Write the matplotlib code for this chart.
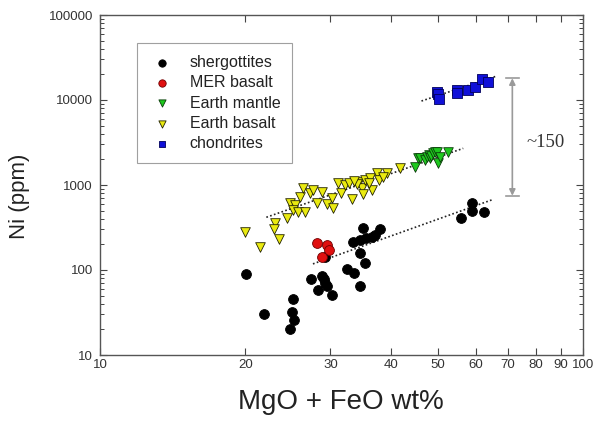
import numpy as np
import matplotlib
matplotlib.use('Agg')
from matplotlib import pyplot as plt
from matplotlib.ticker import FixedLocator, FuncFormatter, LogLocator, NullLocator

plt.rcParams['font.family'] = ['Liberation Sans', 'DejaVu Sans']

# data (MgO+FeO wt%, Ni ppm)
sherg_x = [20.1, 21.9, 25.1, 25.0, 25.2, 24.7, 27.3, 28.8, 29.1, 29.2, 29.5, 28.3, 30.2,
           32.5, 33.5, 34.5, 34.6, 35.4, 35.0, 33.4, 34.5, 35.6, 36.5, 37.1, 38.0, 29.2,
           55.9, 58.8, 58.8, 62.5]
sherg_y = [90, 30, 46, 32, 26, 20, 78, 86, 79, 70, 65, 58, 51,
           102, 92, 65, 160, 122, 310, 215, 225, 236, 245, 258, 300, 143,
           406, 610, 500, 480]

mer_x = [28.2, 29.5, 29.8, 28.8]
mer_y = [206, 197, 172, 143]

mantle_x = [44.9, 45.6, 46.0, 47.0, 47.5, 48.0, 48.2, 48.5, 49.0, 49.4, 49.8, 50.2, 50.6, 52.6]
mantle_y = [1640, 2060, 2060, 1950, 2120, 2250, 2060, 2200, 2360, 2460, 2460, 1800, 2150, 2460]

ebas_x = [20.0, 21.4, 23.0, 22.9, 23.5, 24.4, 24.7, 25.3, 25.1, 25.7, 26.6, 25.9, 26.3,
          27.2, 27.6, 28.2, 28.8, 29.5, 30.2, 30.4, 31.1, 31.5, 32.2, 32.7, 33.2, 34.3,
          34.8, 35.1, 35.4, 36.2, 36.5, 37.4, 37.9, 39.2, 41.8, 34.0, 33.6, 36.0, 38.5]
ebas_y = [281, 188, 356, 301, 230, 406, 619, 582, 508, 485, 485, 728, 915,
          799, 874, 609, 834, 598, 698, 532, 1065, 799, 1000, 1065, 679, 1094,
          915, 784, 1145, 1199, 874, 1374, 1145, 1374, 1572, 1020, 1100, 1050, 1250]

chon_x = [49.9, 50.0, 50.4, 54.8, 54.9, 57.9, 59.8, 61.7, 63.7]
chon_y = [12500, 11800, 10400, 13100, 12200, 13200, 14300, 17900, 16300]

# dotted trend lines (end points)
earth_fit_x = [22.1, 56.5]
earth_fit_y = [417, 2700]
sherg_fit_x = [27.6, 64.7]
sherg_fit_y = [118, 667]
chon_fit_x = [46.3, 66.3]
chon_fit_y = [9730, 19160]

# ~150 bracket
gap_x = 71.4
gap_top = 18000
gap_bot = 748

xticks = [10, 20, 30, 40, 50, 60, 70, 80, 90, 100]
yticks = [10, 100, 1000, 10000, 100000]

fig = plt.figure(figsize=(5.94, 4.21), dpi=100)
ax = fig.add_axes([100 / 594, 1 - 355 / 421, 483 / 594, 340 / 421])
ax.set_xscale('log')
ax.set_yscale('log')
ax.set_xlim(10, 100)
ax.set_ylim(10, 100000)

dot = (0, (1, 1.4))
for fx, fy in [(earth_fit_x, earth_fit_y), (sherg_fit_x, sherg_fit_y), (chon_fit_x, chon_fit_y)]:
    ax.plot(fx, fy, color='#222222', lw=1.2, ls=dot, zorder=2)

ax.scatter(sherg_x, sherg_y, s=50, marker='o', color='black', edgecolor='black',
           lw=0.6, zorder=3, label='shergottites')
ax.scatter(mer_x, mer_y, s=50, marker='o', color='#e01010', edgecolor='#700000',
           lw=0.6, zorder=4, label='MER basalt')
ax.scatter(mantle_x, mantle_y, s=48, marker='v', color='#1ec81e', edgecolor='#0a3a0a',
           lw=0.6, zorder=3, label='Earth mantle')
ax.scatter(ebas_x, ebas_y, s=48, marker='v', color='#eaea10', edgecolor='#222200',
           lw=0.6, zorder=3, label='Earth basalt')
ax.scatter(chon_x, chon_y, s=42, marker='s', color='#1010d8', edgecolor='#00005a',
           lw=0.6, zorder=3, label='chondrites')

# bracket with arrows
g = '#9a9a9a'
ax.plot([69.3, 73.7], [gap_top, gap_top], color=g, lw=1.2)
ax.plot([69.3, 73.7], [gap_bot, gap_bot], color=g, lw=1.2)
ax.annotate('', xy=(gap_x, gap_top), xytext=(gap_x, gap_bot),
            arrowprops=dict(arrowstyle='<|-|>', color=g, lw=1.2, mutation_scale=9,
                            shrinkA=0, shrinkB=0))
ax.text(76.5, 3200, '~150', family=['Liberation Serif', 'DejaVu Serif'], fontsize=13.5,
        color='#333333', va='center', ha='left')

ax.xaxis.set_major_locator(FixedLocator(xticks))
ax.xaxis.set_minor_locator(NullLocator())
ax.xaxis.set_major_formatter(FuncFormatter(lambda v, p: '%d' % v))
ax.yaxis.set_major_locator(FixedLocator(yticks))
ax.yaxis.set_minor_locator(LogLocator(base=10, subs=np.arange(2, 10)))
ax.yaxis.set_major_formatter(FuncFormatter(lambda v, p: '%d' % v))
ax.yaxis.set_minor_formatter(FuncFormatter(lambda v, p: ''))

ax.tick_params(which='both', direction='in', top=True, right=True, colors='#444444',
               labelcolor='#333333', labelsize=9.5)
ax.tick_params(which='major', length=5, width=0.8)
ax.tick_params(which='minor', length=3, width=0.7)
ax.tick_params(axis='x', pad=3)
ax.tick_params(axis='y', pad=5)
for s in ax.spines.values():
    s.set_color('#555555')
    s.set_linewidth(1.0)

fig.text(341 / 594, 1 - 402 / 421, 'MgO + FeO wt%', fontsize=20, ha='center', va='center',
         color='#222222')
fig.text(20 / 594, 1 - 196 / 421, 'Ni (ppm)', fontsize=16, ha='center', va='center',
         rotation=90, color='#222222')

leg = ax.legend(loc='upper left', bbox_to_anchor=(0.0766, 0.9176), fontsize=11.5,
                frameon=True, fancybox=False, edgecolor='#888888', borderpad=0.75,
                labelspacing=0.33, handletextpad=0.95, markerscale=0.75, handlelength=1.6,
                borderaxespad=0)
leg.get_frame().set_linewidth(0.8)
for t in leg.get_texts():
    t.set_color('#222222')

plt.savefig('out.png', dpi=100)
